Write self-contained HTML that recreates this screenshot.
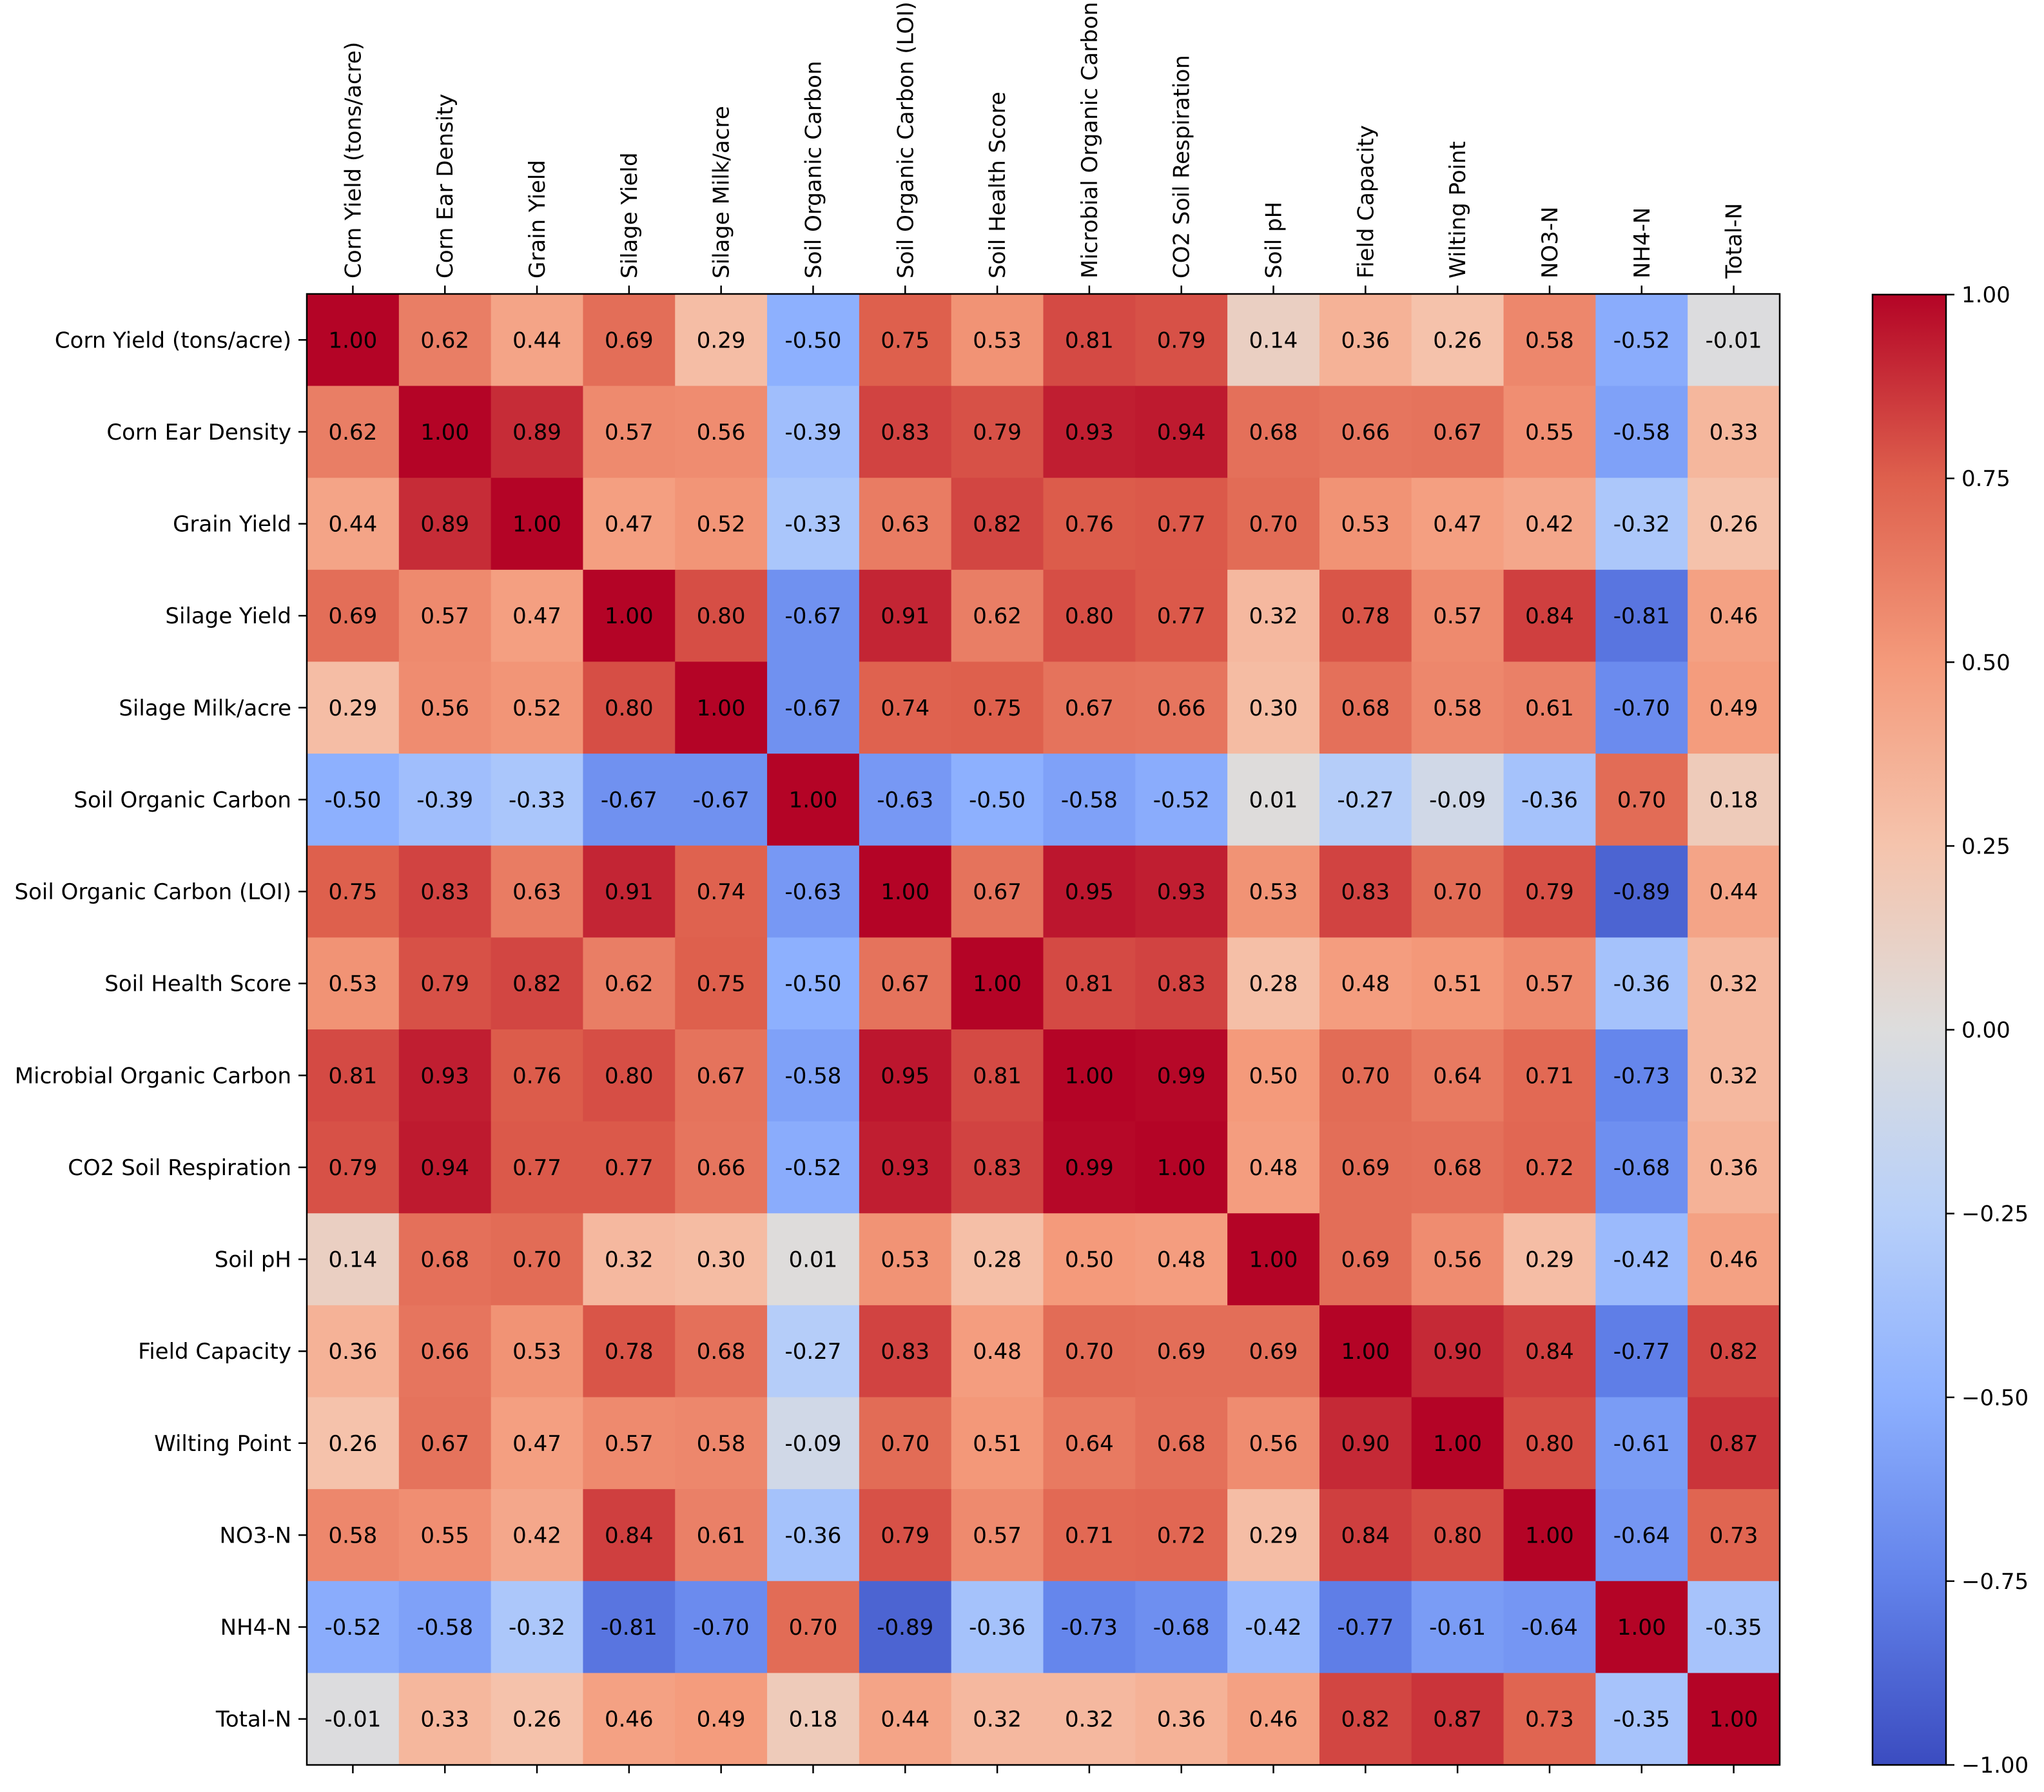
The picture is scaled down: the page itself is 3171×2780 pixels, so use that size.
<!DOCTYPE html>
<html><head><meta charset="utf-8"><style>
html,body{margin:0;padding:0;background:#fff;}
svg{display:block;font-family:"DejaVu Sans","Liberation Sans",sans-serif;}
</style></head><body>
<svg id="chart" width="3171" height="2780" viewBox="0 0 3171 2780" xmlns="http://www.w3.org/2000/svg">
<defs>
<linearGradient id="cbgrad" x1="0" y1="1" x2="0" y2="0">
<stop offset="0" stop-color="rgb(59,76,192)"/>
<stop offset="0.125" stop-color="rgb(98,130,234)"/>
<stop offset="0.25" stop-color="rgb(141,176,254)"/>
<stop offset="0.375" stop-color="rgb(184,208,249)"/>
<stop offset="0.5" stop-color="rgb(221,221,221)"/>
<stop offset="0.625" stop-color="rgb(245,196,173)"/>
<stop offset="0.75" stop-color="rgb(244,154,123)"/>
<stop offset="0.875" stop-color="rgb(222,96,77)"/>
<stop offset="1" stop-color="rgb(180,4,38)"/>
</linearGradient>
</defs>
<g id="cells"></g>
<g id="labels"></g>
<rect x="476" y="456" width="2285" height="2282" fill="none" stroke="#000" stroke-width="2.5"/>
<rect x="2905" y="457" width="114" height="2281" fill="url(#cbgrad)" stroke="#000" stroke-width="2.5"/>
<g id="cbticks"></g>
</svg>
<script>
const categories = ["Corn Yield (tons/acre)","Corn Ear Density","Grain Yield","Silage Yield","Silage Milk/acre","Soil Organic Carbon","Soil Organic Carbon (LOI)","Soil Health Score","Microbial Organic Carbon","CO2 Soil Respiration","Soil pH","Field Capacity","Wilting Point","NO3-N","NH4-N","Total-N"];
const row0 = [1.00,0.62,0.44,0.69,0.29,-0.50,0.75,0.53,0.81,0.79,0.14,0.36,0.26,0.58,-0.52,-0.01];
const row1 = [0.62,1.00,0.89,0.57,0.56,-0.39,0.83,0.79,0.93,0.94,0.68,0.66,0.67,0.55,-0.58,0.33];
const row2 = [0.44,0.89,1.00,0.47,0.52,-0.33,0.63,0.82,0.76,0.77,0.70,0.53,0.47,0.42,-0.32,0.26];
const row3 = [0.69,0.57,0.47,1.00,0.80,-0.67,0.91,0.62,0.80,0.77,0.32,0.78,0.57,0.84,-0.81,0.46];
const row4 = [0.29,0.56,0.52,0.80,1.00,-0.67,0.74,0.75,0.67,0.66,0.30,0.68,0.58,0.61,-0.70,0.49];
const row5 = [-0.50,-0.39,-0.33,-0.67,-0.67,1.00,-0.63,-0.50,-0.58,-0.52,0.01,-0.27,-0.09,-0.36,0.70,0.18];
const row6 = [0.75,0.83,0.63,0.91,0.74,-0.63,1.00,0.67,0.95,0.93,0.53,0.83,0.70,0.79,-0.89,0.44];
const row7 = [0.53,0.79,0.82,0.62,0.75,-0.50,0.67,1.00,0.81,0.83,0.28,0.48,0.51,0.57,-0.36,0.32];
const row8 = [0.81,0.93,0.76,0.80,0.67,-0.58,0.95,0.81,1.00,0.99,0.50,0.70,0.64,0.71,-0.73,0.32];
const row9 = [0.79,0.94,0.77,0.77,0.66,-0.52,0.93,0.83,0.99,1.00,0.48,0.69,0.68,0.72,-0.68,0.36];
const row10 = [0.14,0.68,0.70,0.32,0.30,0.01,0.53,0.28,0.50,0.48,1.00,0.69,0.56,0.29,-0.42,0.46];
const row11 = [0.36,0.66,0.53,0.78,0.68,-0.27,0.83,0.48,0.70,0.69,0.69,1.00,0.90,0.84,-0.77,0.82];
const row12 = [0.26,0.67,0.47,0.57,0.58,-0.09,0.70,0.51,0.64,0.68,0.56,0.90,1.00,0.80,-0.61,0.87];
const row13 = [0.58,0.55,0.42,0.84,0.61,-0.36,0.79,0.57,0.71,0.72,0.29,0.84,0.80,1.00,-0.64,0.73];
const row14 = [-0.52,-0.58,-0.32,-0.81,-0.70,0.70,-0.89,-0.36,-0.73,-0.68,-0.42,-0.77,-0.61,-0.64,1.00,-0.35];
const row15 = [-0.01,0.33,0.26,0.46,0.49,0.18,0.44,0.32,0.32,0.36,0.46,0.82,0.87,0.73,-0.35,1.00];
const matrix = [row0,row1,row2,row3,row4,row5,row6,row7,row8,row9,row10,row11,row12,row13,row14,row15];
const cbTicks = [1.00,0.75,0.50,0.25,0.00,-0.25,-0.50,-0.75,-1.00];

const NS = "http://www.w3.org/2000/svg";
const X0 = 476, Y0 = 456, W = 2285, H = 2282;
const n = categories.length;
const cw = W / n, ch = H / n;
const xPos = i => X0 + i * cw;
const yPos = i => Y0 + i * ch;
const CB_TOP = 457, CB_BOT = 2738;
const cbY = v => CB_BOT - (v + 1) / 2 * (CB_BOT - CB_TOP);
const stops = [[59,76,192],[98,130,234],[141,176,254],[184,208,249],[221,221,221],[245,196,173],[244,154,123],[222,96,77],[180,4,38]];
function color(v){
  let t = (v + 1) / 2 * 8; t = Math.max(0, Math.min(8, t));
  const i = Math.min(7, Math.floor(t)), f = t - i;
  const a = stops[i], b = stops[i+1];
  return "rgb(" + a.map((c,k)=>Math.round(c + (b[k]-c)*f)).join(",") + ")";
}
function mk(tag, attrs, parent){
  const e = document.createElementNS(NS, tag);
  for (const k in attrs) e.setAttribute(k, attrs[k]);
  parent.appendChild(e); return e;
}
const cells = document.getElementById("cells");
const labels = document.getElementById("labels");
matrix.forEach((row, r) => {
  row.forEach((v, c) => {
    const rect = mk("rect", {x: xPos(c), y: yPos(r), width: cw + 0.6, height: ch + 0.6, fill: color(v)}, cells);
    
    
    const t = mk("text", {x: xPos(c) + cw/2, y: yPos(r) + ch/2 + 12, "text-anchor": "middle", "font-size": 34, fill: "#000"}, cells);
    
    
    t.textContent = v.toFixed(2);
  });
});
categories.forEach((name, i) => {
  const yl = mk("text", {x: 452, y: yPos(i) + ch/2 + 12, "text-anchor": "end", "font-size": 34, fill: "#000"}, labels);
  
  
  yl.textContent = name;
  const yt = mk("line", {x1: 463, x2: 476, y1: yPos(i) + ch/2, y2: yPos(i) + ch/2, stroke: "#000", "stroke-width": 2.5}, labels);
  
  
  const cx = xPos(i) + cw/2;
  const xl = mk("text", {x: 0, y: 0, transform: "translate(" + (cx + 12) + ",432) rotate(-90)", "text-anchor": "start", "font-size": 34, fill: "#000"}, labels);
  
  
  xl.textContent = name;
  const xt = mk("line", {x1: cx, x2: cx, y1: 443, y2: 456, stroke: "#000", "stroke-width": 2.5}, labels);
  
  
  const xb = mk("line", {x1: cx, x2: cx, y1: 2738, y2: 2751, stroke: "#000", "stroke-width": 2.5}, labels);
  
  
});
const cbt = document.getElementById("cbticks");
cbTicks.forEach(v => {
  const y = cbY(v);
  const l = mk("line", {x1: 3019, x2: 3032, y1: y, y2: y, stroke: "#000", "stroke-width": 2.5}, cbt);
  
  
  const t = mk("text", {x: 3043, y: y + 12, "font-size": 34, fill: "#000"}, cbt);
  
  
  t.textContent = v < 0 ? "\u2212" + Math.abs(v).toFixed(2) : v.toFixed(2);
});
</script>
</body></html>
